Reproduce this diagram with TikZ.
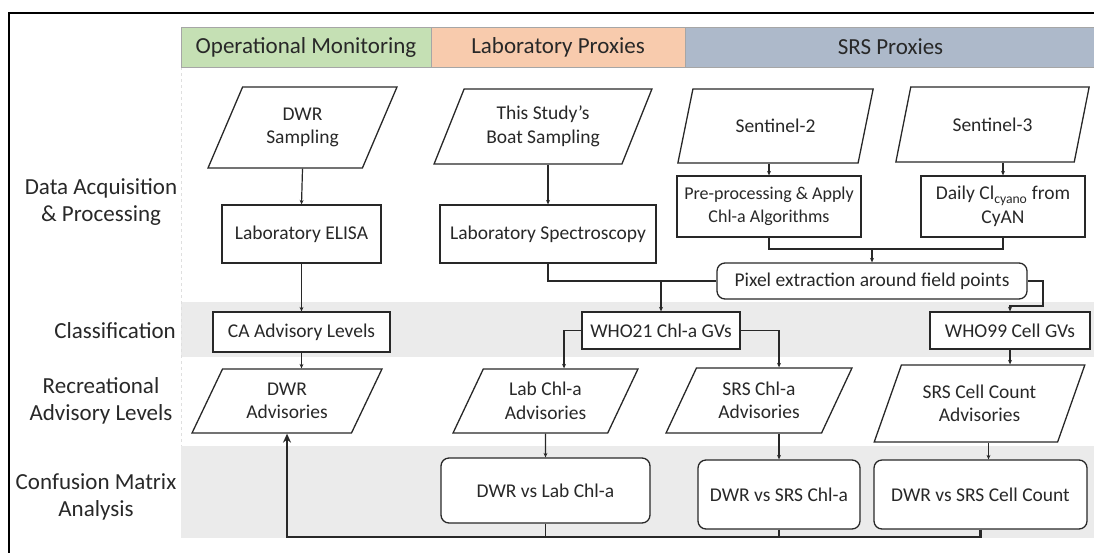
\documentclass[tikz,border=0pt]{standalone}
\usepackage{fontspec}
\setmainfont{Carlito}
\usetikzlibrary{shapes.geometric,arrows.meta,calc}
\definecolor{hgreen}{RGB}{197,224,180}
\definecolor{horange}{RGB}{248,203,173}
\definecolor{hblue}{RGB}{173,185,202}
\definecolor{band}{RGB}{235,235,235}
\definecolor{ink}{RGB}{40,40,40}
\newcommand\mynodefont{\fontsize{19.5}{23.5}\selectfont}
\newcommand\mysmallfont{\fontsize{18}{22.5}\selectfont}
\newcommand\mylblfont{\fontsize{23}{27}\selectfont}
\begin{document}
\begin{tikzpicture}[x=1pt,y=-1pt,
  box/.style={draw=ink, line width=1.3pt, fill=white, inner sep=0pt, align=center, font=\mynodefont, text=ink},
  rbox/.style={box, rounded corners=8pt},
  para/.style={box, trapezium, trapezium left angle=62, trapezium right angle=118, trapezium stretches=true},
  sz/.style 2 args={minimum width=#1pt, minimum height=#2pt},
  conn/.style={line width=1.2pt, draw=ink},
  arr/.style={conn, -{Stealth[length=4.5pt,width=4pt]}},
  thickarr/.style={line width=2.8pt, draw=ink, -{Stealth[length=9pt,width=8pt]}},
  lbl/.style={align=center, font=\mylblfont, text=ink, inner sep=0pt},
  hdr/.style={draw=gray!70, line width=1pt, inner sep=0pt, font=\mylblfont, text=ink, minimum height=40pt}
]
\useasboundingbox (0,0) rectangle (1094,552);
% frame
\draw[line width=1.5pt, black] (9,553) -- (9,13) -- (1096,13);
% bands
\fill[band] (181,302) rectangle (1096,357);
\fill[band] (181,446) rectangle (1096,538);
\draw[gray!25, dashed, line width=0.8pt] (181,67) -- (181,446);
% headers
\node[hdr, fill=hgreen, minimum width=250pt] (h1) at (306,47) {Operational Monitoring};
\node[hdr, fill=horange, minimum width=254pt] (h2) at (558,47) {Laboratory Proxies};
\node[hdr, fill=hblue, minimum width=411pt] (h3) at (890.5,47) {SRS Proxies};
% row labels
\node[lbl] (l1) at (101,202) {Data Acquisition\\\& Processing};
\node[lbl, anchor=east] (l2) at (176,331) {Classification};
\node[lbl] (l3) at (101,401) {Recreational\\Advisory Levels};
\node[lbl] (l4) at (96,497) {Confusion Matrix\\Analysis};
% row 1
\node[para, sz={189}{81}] (samp1) at (302.5,127.5) {DWR\\Sampling};
\node[para, sz={218}{75}] (samp2) at (543,126.5) {This Study’s\\Boat Sampling};
\node[para, sz={197}{74}] (sen2) at (775.5,126) {Sentinel-2};
\node[para, sz={195}{75}] (sen3) at (992.5,124.5) {Sentinel-3};
% row 2
\node[box, sz={159}{58}] (elisa) at (301.5,234) {Laboratory ELISA};
\node[box, sz={216}{58}] (spec) at (548,234) {Laboratory Spectroscopy};
\node[box, sz={184}{61}, font=\mysmallfont] (prep) at (769,206.5) {Pre-processing \& Apply\\Chl-a Algorithms};
\node[box, sz={164}{61}] (daily) at (1003,206.5) {Daily Cl\textsubscript{cyano} from\\CyAN};
\node[rbox, sz={310}{36}] (pix) at (872,281) {Pixel extraction around field points};
% row 3
\node[box, sz={177}{40}] (ca) at (301.5,332) {CA Advisory Levels};
\node[box, sz={158}{37}] (who21) at (661,330.5) {WHO21 Chl-a GVs};
\node[box, sz={160}{37}] (who99) at (1010,330.5) {WHO99 Cell GVs};
% row 4
\node[para, sz={190}{64}] (dwradv) at (287,401) {DWR\\Advisories};
\node[para, sz={185}{64}] (labadv) at (545.5,401) {Lab Chl-a\\Advisories};
\node[para, sz={186}{65}] (srsadv) at (759,400.5) {SRS Chl-a\\Advisories};
\node[para, sz={211}{77}] (celladv) at (979.5,403.5) {SRS Cell Count\\Advisories};
% row 5
\node[rbox, sz={209}{65}] (cm1) at (545.5,490.5) {DWR vs Lab Chl-a};
\node[rbox, sz={162}{69}] (cm2) at (779,494.5) {DWR vs SRS Chl-a};
\node[rbox, sz={213}{69}] (cm3) at (980.5,494.5) {DWR vs SRS Cell Count};
% connectors
\draw[arr] (samp1.south) -- (elisa.north);
\draw[arr] (elisa.south) -- (ca.north);
\draw[arr] (ca.south) -- (ca.south |- dwradv.north);
\draw[arr] (spec.north |- samp2.south) -- (spec.north);
\draw[arr] (prep.north |- sen2.south) -- (prep.north);
\draw[arr] (daily.north |- sen3.south) -- (daily.north);
\coordinate (pj) at (872,249);
\draw[conn] (prep.south) |- (pj) -| (daily.south);
\draw[arr] (pj) -- (pix.north);
\draw[conn] (spec.south) |- (pix.west);
\draw[arr] (who21.north |- pix.west) -- (who21.north);
\coordinate (w1) at (1043,306);
\draw[arr] (pix.east) -| (w1) -| (who99.north);
\draw[arr] (who21.west) -| ([xshift=18.5pt]labadv.north);
\draw[arr] (who21.east) -| ([xshift=20pt]srsadv.north);
\draw[arr] (who99.south) -- (who99.south |- celladv.north);
\draw[arr] (labadv.south) -- (cm1.north);
\draw[arr] (cm2.north |- srsadv.south) -- (cm2.north);
\coordinate (c3in) at ([xshift=8pt]cm3.north);
\draw[arr] (c3in |- celladv.south) -- (c3in);
\coordinate (bl) at (dwradv.south |- 0,537);
\draw[conn] (cm1.south) -- (cm1.south |- bl);
\draw[conn] (cm2.south) -- (cm2.south |- bl);
\draw[thickarr] (cm3.south) |- (bl) -- (dwradv.south);
\end{tikzpicture}
\end{document}
